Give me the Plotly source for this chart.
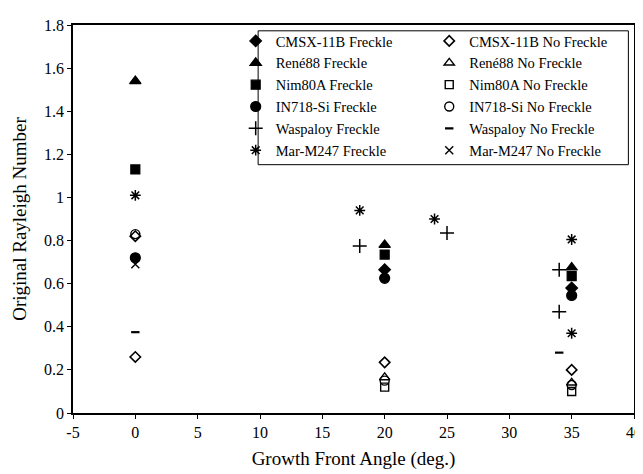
import plotly.graph_objects as go

# ---- data ----
cmsx_f_x = [20, 35]
cmsx_f_y = [0.665, 0.58]
cmsx_nf_x = [0, 0, 20, 35]
cmsx_nf_y = [0.82, 0.26, 0.235, 0.20]

rene_f_x = [0, 20, 35]
rene_f_y = [1.54, 0.78, 0.675]
rene_nf_x = [20, 35]
rene_nf_y = [0.165, 0.14]

nim_f_x = [0, 20, 35]
nim_f_y = [1.13, 0.735, 0.635]
nim_nf_x = [20, 35]
nim_nf_y = [0.12, 0.10]

in718_f_x = [0, 20, 35]
in718_f_y = [0.72, 0.625, 0.545]
in718_nf_x = [0, 20, 35]
in718_nf_y = [0.83, 0.15, 0.13]

wasp_f_x = [18, 25, 34, 34]
wasp_f_y = [0.775, 0.835, 0.665, 0.47]
wasp_nf_x = [0, 34]
wasp_nf_y = [0.375, 0.28]

mar_f_x = [0, 18, 24, 35, 35]
mar_f_y = [1.01, 0.94, 0.90, 0.805, 0.37]
mar_nf_x = [0]
mar_nf_y = [0.69]

x_tick_vals = [-5, 0, 5, 10, 15, 20, 25, 30, 35, 40]
x_tick_text = ["-5", "0", "5", "10", "15", "20", "25", "30", "35", "40"]
y_tick_vals = [0, 0.2, 0.4, 0.6, 0.8, 1.0, 1.2, 1.4, 1.6, 1.8]
y_tick_text = ["0", "0.2", "0.4", "0.6", "0.8", "1", "1.2", "1.4", "1.6", "1.8"]

FONT = "Liberation Serif, Times New Roman, serif"

fig = go.Figure()

def add(x, y, name, symbol, size, legend, lw=1.2):
    fig.add_trace(go.Scatter(
        x=x, y=y, mode="markers", name=name, legend=legend,
        marker=dict(symbol=symbol, size=size, color="black",
                    line=dict(color="black", width=lw)),
    ))

add(cmsx_f_x, cmsx_f_y, "CMSX-11B Freckle", "diamond", 9, "legend")
add(rene_f_x, rene_f_y, "René88 Freckle", "triangle-up", 10, "legend")
add(nim_f_x, nim_f_y, "Nim80A Freckle", "square", 9, "legend")
add(in718_f_x, in718_f_y, "IN718-Si Freckle", "circle", 10, "legend")
add(wasp_f_x, wasp_f_y, "Waspaloy Freckle", "cross-thin-open", 10, "legend", 1.5)
add(mar_f_x, mar_f_y, "Mar-M247 Freckle", "asterisk-open", 9, "legend", 1.5)

add(cmsx_nf_x, cmsx_nf_y, "CMSX-11B No Freckle", "diamond-open", 8, "legend2", 1.6)
add(rene_nf_x, rene_nf_y, "René88 No Freckle", "triangle-up-open", 9, "legend2", 1.4)
add(nim_nf_x, nim_nf_y, "Nim80A No Freckle", "square-open", 8, "legend2", 1.4)
add(in718_nf_x, in718_nf_y, "IN718-Si No Freckle", "circle-open", 9, "legend2", 1.4)
add(wasp_nf_x, wasp_nf_y, "Waspaloy No Freckle", "line-ew-open", 6, "legend2", 2.2)
add(mar_nf_x, mar_nf_y, "Mar-M247 No Freckle", "x-thin-open", 8, "legend2", 1.4)

legend_common = dict(
    font=dict(family=FONT, size=14.5, color="black"),
    bgcolor="rgba(0,0,0,0)", borderwidth=0,
    xanchor="left", yanchor="top", itemwidth=30,
    tracegroupgap=0,
)

fig.update_layout(
    width=643, height=474,
    margin=dict(l=65, r=9, t=14, b=69),
    paper_bgcolor="white", plot_bgcolor="white",
    font=dict(family=FONT, size=16, color="black"),
    showlegend=True,
    legend=dict(x=0.29, y=1.0, **legend_common),
    legend2=dict(x=0.635, y=1.0, **legend_common),
    xaxis=dict(
        range=[-5, 40], tickvals=x_tick_vals, ticktext=x_tick_text,
        showgrid=False, zeroline=False, showline=True, linecolor="black",
        linewidth=1.5, mirror=True, ticks="outside", ticklen=4,
        tickcolor="black", tickfont=dict(size=16),
        title=dict(text="Growth Front Angle (deg.)", font=dict(size=19), standoff=12),
    ),
    yaxis=dict(
        range=[0, 1.8], tickvals=y_tick_vals, ticktext=y_tick_text,
        showgrid=False, zeroline=False, showline=True, linecolor="black",
        linewidth=1.5, mirror=True, ticks="outside", ticklen=4,
        tickcolor="black", tickfont=dict(size=16),
        title=dict(text="Original Rayleigh Number", font=dict(size=19), standoff=12),
    ),
    shapes=[dict(type="rect", xref="paper", yref="paper",
                 x0=0.33, x1=0.99, y0=0.64, y1=0.985,
                 line=dict(color="black", width=1), fillcolor="rgba(0,0,0,0)")],
)

fig.write_html("out.html")
